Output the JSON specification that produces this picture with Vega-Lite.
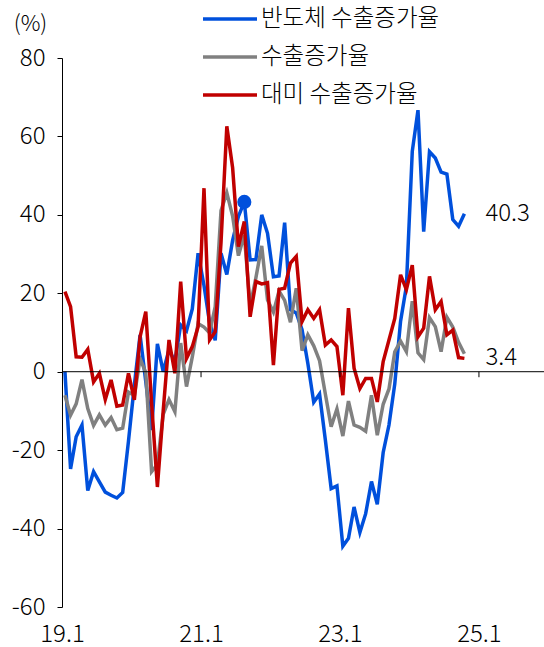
{
  "$schema": "https://vega.github.io/schema/vega-lite/v6.json",
  "width": 482,
  "height": 549,
  "autosize": {"type": "none"},
  "padding": {"left": 62, "top": 58, "right": 0, "bottom": 40},
  "background": "white",
  "config": {
    "view": {"stroke": null},
    "font": "Noto Sans CJK KR",
    "axis": {"labelFontWeight": 300, "titleFontWeight": 300},
    "legend": {"labelFontWeight": 300}
  },
  "datasets": {
    "exports": [
      {"month": "2019-01", "반도체 수출증가율": 0.0, "수출증가율": -6.0, "대미 수출증가율": 20.4},
      {"month": "2019-02", "반도체 수출증가율": -24.8, "수출증가율": -11.1, "대미 수출증가율": 16.6},
      {"month": "2019-03", "반도체 수출증가율": -16.6, "수출증가율": -8.2, "대미 수출증가율": 3.8},
      {"month": "2019-04", "반도체 수출증가율": -13.6, "수출증가율": -2.0, "대미 수출증가율": 3.7},
      {"month": "2019-05", "반도체 수출증가율": -30.3, "수출증가율": -9.4, "대미 수출증가율": 5.7},
      {"month": "2019-06", "반도체 수출증가율": -25.5, "수출증가율": -13.7, "대미 수출증가율": -2.6},
      {"month": "2019-07", "반도체 수출증가율": -28.1, "수출증가율": -11.0, "대미 수출증가율": -0.4},
      {"month": "2019-08", "반도체 수출증가율": -30.7, "수출증가율": -13.6, "대미 수출증가율": -7.1},
      {"month": "2019-09", "반도체 수출증가율": -31.5, "수출증가율": -11.7, "대미 수출증가율": -2.1},
      {"month": "2019-10", "반도체 수출증가율": -32.2, "수출증가율": -14.8, "대미 수출증가율": -8.8},
      {"month": "2019-11", "반도체 수출증가율": -30.8, "수출증가율": -14.4, "대미 수출증가율": -8.5},
      {"month": "2019-12", "반도체 수출증가율": -17.7, "수출증가율": -5.2, "대미 수출증가율": -0.4},
      {"month": "2020-01", "반도체 수출증가율": -3.4, "수출증가율": -6.1, "대미 수출증가율": -7.2},
      {"month": "2020-02", "반도체 수출증가율": 9.4, "수출증가율": 3.3, "대미 수출증가율": 8.9},
      {"month": "2020-03", "반도체 수출증가율": -2.6, "수출증가율": -0.2, "대미 수출증가율": 15.3},
      {"month": "2020-04", "반도체 수출증가율": -14.9, "수출증가율": -25.5, "대미 수출증가율": -8.0},
      {"month": "2020-05", "반도체 수출증가율": 7.1, "수출증가율": -23.7, "대미 수출증가율": -29.4},
      {"month": "2020-06", "반도체 수출증가율": 0.0, "수출증가율": -10.9, "대미 수출증가율": -10.0},
      {"month": "2020-07", "반도체 수출증가율": 5.6, "수출증가율": -7.1, "대미 수출증가율": 8.1},
      {"month": "2020-08", "반도체 수출증가율": 2.6, "수출증가율": -10.2, "대미 수출증가율": -0.4},
      {"month": "2020-09", "반도체 수출증가율": 11.9, "수출증가율": 7.3, "대미 수출증가율": 23.0},
      {"month": "2020-10", "반도체 수출증가율": 10.4, "수출증가율": -3.8, "대미 수출증가율": 3.4},
      {"month": "2020-11", "반도체 수출증가율": 16.0, "수출증가율": 3.8, "대미 수출증가율": 6.4},
      {"month": "2020-12", "반도체 수출증가율": 30.2, "수출증가율": 12.3, "대미 수출증가율": 11.5},
      {"month": "2021-01", "반도체 수출증가율": 22.0, "수출증가율": 11.4, "대미 수출증가율": 46.8},
      {"month": "2021-02", "반도체 수출증가율": 12.5, "수출증가율": 9.9, "대미 수출증가율": 8.1},
      {"month": "2021-03", "반도체 수출증가율": 8.0, "수출증가율": 16.6, "대미 수출증가율": 10.2},
      {"month": "2021-04", "반도체 수출증가율": 30.2, "수출증가율": 41.1, "대미 수출증가율": 33.0},
      {"month": "2021-05", "반도체 수출증가율": 24.8, "수출증가율": 45.6, "대미 수출증가율": 62.6},
      {"month": "2021-06", "반도체 수출증가율": 33.5, "수출증가율": 39.7, "대미 수출증가율": 52.0},
      {"month": "2021-07", "반도체 수출증가율": 39.6, "수출증가율": 29.6, "대미 수출증가율": 31.9},
      {"month": "2021-08", "반도체 수출증가율": 43.3, "수출증가율": 34.9, "대미 수출증가율": 38.3},
      {"month": "2021-09", "반도체 수출증가율": 28.5, "수출증가율": 16.7, "대미 수출증가율": 14.0},
      {"month": "2021-10", "반도체 수출증가율": 28.6, "수출증가율": 24.0, "대미 수출증가율": 23.0},
      {"month": "2021-11", "반도체 수출증가율": 40.0, "수출증가율": 32.1, "대미 수출증가율": 22.4},
      {"month": "2021-12", "반도체 수출증가율": 35.3, "수출증가율": 18.3, "대미 수출증가율": 22.7},
      {"month": "2022-01", "반도체 수출증가율": 24.2, "수출증가율": 15.2, "대미 수출증가율": 1.7},
      {"month": "2022-02", "반도체 수출증가율": 24.4, "수출증가율": 20.6, "대미 수출증가율": 21.0},
      {"month": "2022-03", "반도체 수출증가율": 38.0, "수출증가율": 18.2, "대미 수출증가율": 21.3},
      {"month": "2022-04", "반도체 수출증가율": 15.8, "수출증가율": 12.6, "대미 수출증가율": 27.7},
      {"month": "2022-05", "반도체 수출증가율": 15.0, "수출증가율": 21.3, "대미 수출증가율": 29.4},
      {"month": "2022-06", "반도체 수출증가율": 10.7, "수출증가율": 5.4, "대미 수출증가율": 12.8},
      {"month": "2022-07", "반도체 수출증가율": 2.1, "수출증가율": 9.4, "대미 수출증가율": 15.8},
      {"month": "2022-08", "반도체 수출증가율": -7.8, "수출증가율": 6.6, "대미 수출증가율": 13.6},
      {"month": "2022-09", "반도체 수출증가율": -5.7, "수출증가율": 2.8, "대미 수출증가율": 15.8},
      {"month": "2022-10", "반도체 수출증가율": -17.4, "수출증가율": -5.7, "대미 수출증가율": 6.8},
      {"month": "2022-11", "반도체 수출증가율": -29.8, "수출증가율": -14.0, "대미 수출증가율": 8.1},
      {"month": "2022-12", "반도체 수출증가율": -29.1, "수출증가율": -9.5, "대미 수출증가율": 6.4},
      {"month": "2023-01", "반도체 수출증가율": -44.5, "수출증가율": -16.4, "대미 수출증가율": -6.0},
      {"month": "2023-02", "반도체 수출증가율": -42.5, "수출증가율": -7.5, "대미 수출증가율": 16.2},
      {"month": "2023-03", "반도체 수출증가율": -34.5, "수출증가율": -13.6, "대미 수출증가율": 0.9},
      {"month": "2023-04", "반도체 수출증가율": -41.0, "수출증가율": -14.2, "대미 수출증가율": -4.3},
      {"month": "2023-05", "반도체 수출증가율": -36.2, "수출증가율": -15.2, "대미 수출증가율": -1.7},
      {"month": "2023-06", "반도체 수출증가율": -28.0, "수출증가율": -6.0, "대미 수출증가율": -1.7},
      {"month": "2023-07", "반도체 수출증가율": -33.8, "수출증가율": -16.2, "대미 수출증가율": -7.7},
      {"month": "2023-08", "반도체 수출증가율": -20.6, "수출증가율": -8.3, "대미 수출증가율": 2.6},
      {"month": "2023-09", "반도체 수출증가율": -13.6, "수출증가율": -4.4, "대미 수출증가율": 8.1},
      {"month": "2023-10", "반도체 수출증가율": -3.1, "수출증가율": 5.1, "대미 수출증가율": 13.6},
      {"month": "2023-11", "반도체 수출증가율": 12.9, "수출증가율": 7.8, "대미 수출증가율": 24.7},
      {"month": "2023-12", "반도체 수출증가율": 21.8, "수출증가율": 5.1, "대미 수출증가율": 20.9},
      {"month": "2024-01", "반도체 수출증가율": 56.2, "수출증가율": 18.0, "대미 수출증가율": 27.2},
      {"month": "2024-02", "반도체 수출증가율": 66.7, "수출증가율": 4.8, "대미 수출증가율": 8.9},
      {"month": "2024-03", "반도체 수출증가율": 35.7, "수출증가율": 3.1, "대미 수출증가율": 11.1},
      {"month": "2024-04", "반도체 수출증가율": 56.1, "수출증가율": 13.8, "대미 수출증가율": 24.3},
      {"month": "2024-05", "반도체 수출증가율": 54.5, "수출증가율": 11.5, "대미 수출증가율": 15.8},
      {"month": "2024-06", "반도체 수출증가율": 50.9, "수출증가율": 5.1, "대미 수출증가율": 17.9},
      {"month": "2024-07", "반도체 수출증가율": 50.4, "수출증가율": 13.9, "대미 수출증가율": 9.4},
      {"month": "2024-08", "반도체 수출증가율": 38.8, "수출증가율": 11.4, "대미 수출증가율": 10.6},
      {"month": "2024-09", "반도체 수출증가율": 37.1, "수출증가율": 7.5, "대미 수출증가율": 3.6},
      {"month": "2024-10", "반도체 수출증가율": 40.3, "수출증가율": 4.6, "대미 수출증가율": 3.4}
    ]
  },
  "layer": [
    {
      "data": {"name": "exports"},
      "transform": [
        {"fold": ["반도체 수출증가율", "수출증가율", "대미 수출증가율"], "as": ["series", "value"]}
      ],
      "mark": {"type": "line", "strokeWidth": 3.5, "strokeJoin": "miter"},
      "encoding": {
        "x": {
          "field": "month",
          "type": "temporal",
          "timeUnit": "utcyearmonth",
          "bandPosition": 0.5,
          "title": null,
          "scale": {
            "type": "utc",
            "domain": [
              {"year": 2019, "month": 1, "date": 1, "utc": true},
              {"year": 2025, "month": 12, "date": 9, "utc": true}
            ]
          },
          "axis": {
            "values": [
              {"year": 2019, "month": 1, "date": 1, "utc": true},
              {"year": 2021, "month": 1, "date": 1, "utc": true},
              {"year": 2023, "month": 1, "date": 1, "utc": true},
              {"year": 2025, "month": 1, "date": 1, "utc": true}
            ],
            "labelExpr": "utcFormat(datum.value, '%y.%-m')",
            "labelFlush": false,
            "labelOverlap": false,
            "domain": false,
            "ticks": false,
            "grid": false,
            "labelFontSize": 24,
            "labelColor": "black",
            "labelPadding": 15
          }
        },
        "y": {
          "field": "value",
          "type": "quantitative",
          "title": "(%)",
          "scale": {"domain": [-60, 80], "nice": false, "zero": false},
          "axis": {
            "titleAngle": 0,
            "titleX": -32,
            "titleY": -35,
            "titleAlign": "center",
            "titleBaseline": "middle",
            "titleFontSize": 22,
            "titleColor": "black",
            "values": [-60, -40, -20, 0, 20, 40, 60, 80],
            "labelExpr": "'' + datum.value",
            "labelFlush": false,
            "labelFontSize": 24,
            "labelColor": "black",
            "labelPadding": 12,
            "tickSize": 5,
            "tickColor": "black",
            "domainColor": "black",
            "grid": false
          }
        },
        "color": {
          "field": "series",
          "type": "nominal",
          "scale": {
            "domain": ["반도체 수출증가율", "수출증가율", "대미 수출증가율"],
            "range": ["#0050DC", "#808080", "#C00000"]
          },
          "legend": {
            "orient": "none",
            "legendX": 139,
            "legendY": -57,
            "title": null,
            "padding": 0,
            "symbolType": "stroke",
            "symbolSize": 2916,
            "symbolStrokeWidth": 3.5,
            "clipHeight": 36,
            "rowPadding": 2,
            "labelFontSize": 23.5,
            "labelColor": "black",
            "labelLimit": 400,
            "labelOffset": 2
          }
        }
      }
    },
    {
      "data": {"values": [{}]},
      "mark": {"type": "rule", "color": "black", "strokeWidth": 1},
      "encoding": {
        "y": {"datum": 0, "type": "quantitative", "title": "(%)"}
      }
    },
    {
      "data": {"values": [{"month": "2021-01"}, {"month": "2023-01"}, {"month": "2025-01"}]},
      "mark": {"type": "rule", "color": "black", "strokeWidth": 1},
      "encoding": {
        "x": {"field": "month", "type": "temporal", "timeUnit": "utcyearmonth", "title": null},
        "y": {"datum": 0, "type": "quantitative", "title": "(%)"},
        "y2": {"datum": -1.4}
      }
    },
    {
      "data": {"name": "exports"},
      "transform": [
        {"fold": ["반도체 수출증가율"], "as": ["series", "value"]},
        {"filter": "utcyear(datum.month) == 2021 && utcmonth(datum.month) == 7"}
      ],
      "mark": {"type": "point", "filled": true, "size": 200, "opacity": 1, "color": "#0050DC"},
      "encoding": {
        "x": {"field": "month", "type": "temporal", "timeUnit": "utcyearmonth", "bandPosition": 0.5, "title": null},
        "y": {"field": "value", "type": "quantitative", "title": "(%)"}
      }
    },
    {
      "data": {"name": "exports"},
      "transform": [
        {"fold": ["반도체 수출증가율", "대미 수출증가율"], "as": ["series", "value"]},
        {"filter": "utcyear(datum.month) == 2024 && utcmonth(datum.month) == 9"}
      ],
      "mark": {"type": "text", "align": "left", "baseline": "middle", "dx": 21, "fontSize": 24, "fontWeight": 300, "color": "black"},
      "encoding": {
        "x": {"field": "month", "type": "temporal", "timeUnit": "utcyearmonth", "bandPosition": 0.5, "title": null},
        "y": {"field": "value", "type": "quantitative", "title": "(%)"},
        "text": {"field": "value", "type": "quantitative", "format": ".1f"}
      }
    }
  ]
}
